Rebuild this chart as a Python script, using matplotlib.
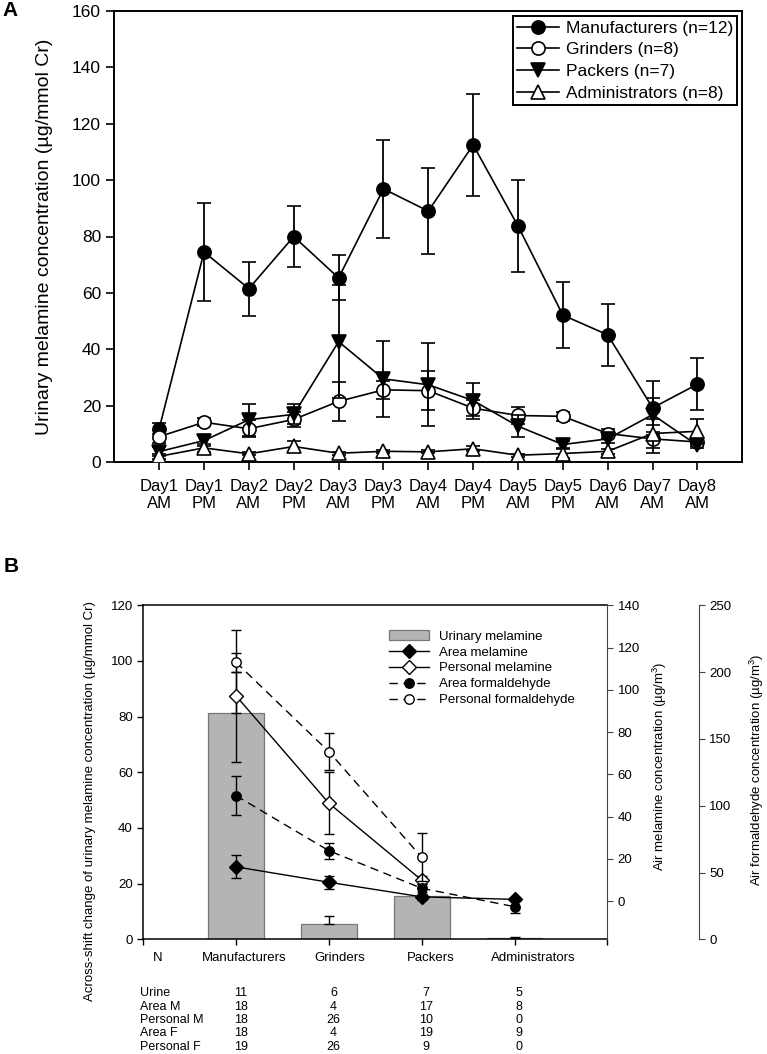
import numpy as np
import matplotlib
matplotlib.use("Agg")
import matplotlib.pyplot as plt
import matplotlib.transforms as mtransforms
from matplotlib.lines import Line2D
from matplotlib.patches import Patch

# ---- panel A: urinary melamine by sampling time ----
DAYS = ["Day1\nAM", "Day1\nPM", "Day2\nAM", "Day2\nPM", "Day3\nAM", "Day3\nPM",
        "Day4\nAM", "Day4\nPM", "Day5\nAM", "Day5\nPM", "Day6\nAM", "Day7\nAM", "Day8\nAM"]
mfr = [11.8, 74.5, 61.5, 80.0, 65.3, 96.9, 89.0, 112.5, 83.7, 52.1, 45.1, 19.2, 27.6]
mfr_err = [2.0, 17.3, 9.6, 10.8, 8.0, 17.4, 15.2, 18.0, 16.4, 11.8, 11.0, 9.7, 9.2]
grd = [9.0, 14.1, 11.8, 15.1, 21.5, 25.6, 25.3, 19.1, 16.5, 16.2, 10.1, 8.2, 7.1]
grd_err = [2.2, 1.5, 3.0, 2.8, 7.0, 3.3, 6.9, 2.9, 2.9, 1.5, 1.5, 5.0, 1.5]
pck = [3.7, 7.6, 15.0, 16.9, 42.7, 29.5, 27.4, 21.8, 12.7, 6.2, 8.2, 16.8, 5.9]
pck_err = [1.5, 2.0, 5.7, 3.5, 20.0, 13.6, 14.7, 6.4, 3.8, 1.3, 1.5, 6.0, 1.0]
adm = [2.0, 5.0, 2.9, 5.5, 3.1, 3.8, 3.6, 4.7, 2.4, 3.0, 3.8, 10.1, 10.9]
adm_err = [1.0, 1.5, 0.5, 2.0, 0.5, 0.5, 0.5, 0.8, 0.5, 1.5, 0.8, 5.0, 4.4]

# ---- panel B: across-shift change and air concentrations ----
GROUPS = ["Manufacturers", "Grinders", "Packers", "Administrators"]
urine = [81.2, 5.5, 15.6, 0.3]
urine_err = [15.0, 3.0, 3.0, 0.6]
area_m = [16.2, 8.9, 2.0, 0.8]
area_m_err = [5.4, 3.0, 1.5, 1.0]
pers_m = [97.1, 46.3, 9.9, np.nan]
pers_m_err = [31.4, 14.6, 2.0, np.nan]
area_f = [107.5, 66.3, 38.2, 24.4]
area_f_err = [14.6, 6.0, 3.0, 5.0]
pers_f = [207.3, 140.4, 61.4, np.nan]
pers_f_err = [6.9, 13.9, 18.0, np.nan]
N_ROWS = ["Urine", "Area M", "Personal M", "Area F", "Personal F"]
N_VALS = [[11, 6, 7, 5], [18, 4, 17, 8], [18, 26, 10, 0], [18, 4, 19, 9], [19, 26, 9, 0]]

plt.rcParams.update({
    "font.family": ["Liberation Sans", "DejaVu Sans"],
    "mathtext.fontset": "custom",
    "mathtext.rm": "Liberation Sans",
    "mathtext.it": "Liberation Sans:italic",
})

W, H = 767, 1054
fig = plt.figure(figsize=(W / 100, H / 100), dpi=100)


def box(x0, y0, x1, y1):
    # pixel box (top-left origin) -> figure fraction rect
    return [x0 / W, 1 - y1 / H, (x1 - x0) / W, (y1 - y0) / H]


# ================= Panel A =================
axA = fig.add_axes(box(114.3, 11, 742.3, 462))
x = np.arange(len(DAYS))
specA = [
    (mfr, mfr_err, "o", "black", "Manufacturers (n=12)"),
    (grd, grd_err, "o", "white", "Grinders (n=8)"),
    (pck, pck_err, "v", "black", "Packers (n=7)"),
    (adm, adm_err, "^", "white", "Administrators (n=8)"),
]
handlesA = []
for k, (vals, err, mk, face, lab) in enumerate(specA):
    axA.errorbar(x, vals, yerr=err, color="black", lw=1.2, marker=mk, mfc=face,
                 mec="black", mew=1.2, ms=9.5, elinewidth=1.3, capsize=5,
                 capthick=1.3, zorder=3 + k)
    handlesA.append(Line2D([], [], color="black", lw=1.2, marker=mk, mfc=face,
                           mec="black", mew=1.2, ms=9.5, label=lab))
axA.set_xlim(-1, len(DAYS))
axA.set_ylim(0, 160)
axA.set_yticks(np.arange(0, 161, 20))
axA.set_xticks(x)
axA.set_xticklabels(DAYS, fontsize=12, linespacing=1.2)
axA.tick_params(axis="y", labelsize=12.5, direction="out", length=6, width=1.2)
axA.tick_params(axis="x", direction="out", length=6, width=1.2, pad=6)
for s in axA.spines.values():
    s.set_linewidth(1.4)
legA = axA.legend(handles=handlesA, loc="upper right", fontsize=12.5, frameon=True,
                  fancybox=False, edgecolor="black", framealpha=1,
                  borderaxespad=0.3, borderpad=0.25, labelspacing=0.38,
                  handlelength=2.4, handletextpad=0.4)
legA.get_frame().set_linewidth(1.4)
fig.text(45 / W, 1 - 237 / H, "Urinary melamine concentration (\u00b5g/mmol Cr)",
         rotation=90, ha="center", va="center", fontsize=14)
fig.text(10 / W, 1 - 11 / H, "A", fontsize=15, fontweight="bold", ha="center", va="center")

# ================= Panel B =================
axB = fig.add_axes(box(143.3, 605.3, 607.3, 939.3))
pos = np.arange(len(GROUPS))
bar_c, bar_e = "#b4b4b4", "#777777"
axB.bar(pos, urine, width=0.6, color=bar_c, edgecolor=bar_e, lw=0.9, zorder=2)
axB.errorbar(pos, urine, yerr=[np.zeros(len(urine)), urine_err], fmt="none",
             ecolor="black", elinewidth=1.0, capsize=3.5, capthick=1.0, zorder=3)
axB.set_xlim(-1, 4)
axB.set_ylim(0, 120)
axB.set_yticks(np.arange(0, 121, 20))
axB.set_xticks(np.arange(-1, 5))
axB.set_xticklabels([])
axB.tick_params(labelsize=9.5, direction="out", length=4, width=1.0)
axB.spines["right"].set_visible(False)
for s in ("left", "bottom", "top"):
    axB.spines[s].set_linewidth(1.1)

axM = axB.twinx()
axM.set_ylim(-18.1, 140)
axM.set_yticks(np.arange(0, 141, 20))
axF = axB.twinx()
axF.set_ylim(0, 250)
axF.set_yticks(np.arange(0, 251, 50))
axF.spines["right"].set_position(("axes", 1.1976))
for a in (axM, axF):
    for s in ("left", "bottom", "top"):
        a.spines[s].set_visible(False)
    a.spines["right"].set_linewidth(0.8)
    a.spines["right"].set_color("#444444")
    a.tick_params(labelsize=9.5, direction="out", length=4, width=0.8, colors="#444444",
                  labelcolor="black")
    a.patch.set_visible(False)

specB = [
    (axM, area_m, area_m_err, "D", "black", "-", "Area melamine"),
    (axM, pers_m, pers_m_err, "D", "white", "-", "Personal melamine"),
    (axF, area_f, area_f_err, "o", "black", (0, (6, 4)), "Area formaldehyde"),
    (axF, pers_f, pers_f_err, "o", "white", (0, (6, 4)), "Personal formaldehyde"),
]
handlesB = [Patch(facecolor=bar_c, edgecolor=bar_e, lw=0.9, label="Urinary melamine")]
for a, vals, err, mk, face, ls, lab in specB:
    a.errorbar(pos, vals, yerr=err, color="black", lw=1.0, ls=ls, marker=mk,
               mfc=face, mec="black", mew=1.0, ms=6.8, elinewidth=1.0,
               capsize=3.5, capthick=1.0, zorder=4)
    handlesB.append(Line2D([], [], color="black", lw=1.0, ls=ls, marker=mk, mfc=face,
                           mec="black", mew=1.0, ms=6.8, label=lab))
axF.legend(handles=handlesB, loc="upper left", bbox_to_anchor=(0.53, 0.925),
           bbox_transform=axB.transAxes, frameon=False, fontsize=9.5,
           borderpad=0, borderaxespad=0, labelspacing=0.28, handlelength=3.0,
           handletextpad=0.8)

# category labels and N table under panel B
tr = mtransforms.blended_transform_factory(axB.transData, fig.transFigure)
lab_off = [0.09, 0.12, 0.1, 0.2]
axB.text(-0.84, 1 - 958 / H, "N", transform=tr, ha="center", va="center", fontsize=9.5)
for i, g in enumerate(GROUPS):
    axB.text(pos[i] + lab_off[i], 1 - 958 / H, g, transform=tr, ha="center",
             va="center", fontsize=9.5)
row_y = [993, 1006.5, 1020, 1033.5, 1047]
for r, (name, vals) in enumerate(zip(N_ROWS, N_VALS)):
    fig.text(140 / W, 1 - row_y[r] / H, name, ha="left", va="center", fontsize=9)
    for i, v in enumerate(vals):
        axB.text(pos[i] + 0.05, 1 - row_y[r] / H, str(v), transform=tr,
                 ha="center", va="center", fontsize=9)

fig.text(90 / W, 1 - 801 / H,
         "Across-shift change of urinary melamine concentration (\u00b5g/mmol Cr)",
         rotation=90, ha="center", va="center", fontsize=9.5)
fig.text(660 / W, 1 - 766 / H, "Air melamine concentration (\u00b5g/m$^3$)",
         rotation=90, ha="center", va="center", fontsize=9.5)
fig.text(757 / W, 1 - 770 / H, "Air formaldehyde concentration (\u00b5g/m$^3$)",
         rotation=90, ha="center", va="center", fontsize=9.5)
fig.text(11 / W, 1 - 566 / H, "B", fontsize=15, fontweight="bold", ha="center", va="center")

fig.savefig("out.png", dpi=100)
